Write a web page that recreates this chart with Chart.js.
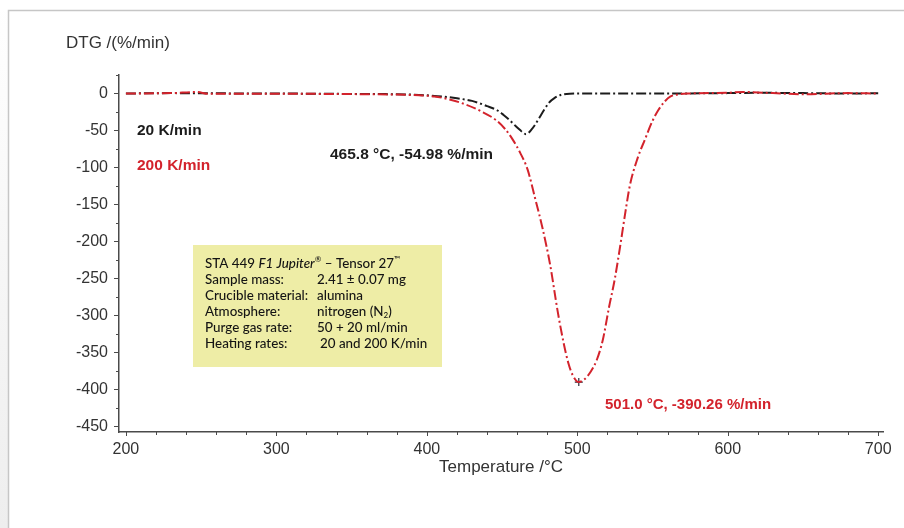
<!DOCTYPE html>
<html>
<head>
<meta charset="utf-8">
<script src="https://cdn.jsdelivr.net/npm/chart.js@4.4.1/dist/chart.umd.min.js"></script>
<style>
  html, body { margin: 0; padding: 0; background: #fff; }
  #wrap { width: 904px; height: 528px; position: relative; }
</style>
</head>
<body>
<div id="wrap"><canvas id="dtgChart" width="904" height="528"></canvas></div>
<script>
// DTG curves (temperature in °C, DTG in %/min)
const temps20 = [200, 230, 260, 300, 340, 370, 390, 400, 410, 420, 430, 440, 447, 451, 455, 459, 462, 464, 465.8, 467.5, 469.5, 472, 475, 478, 481, 485, 489, 495, 510, 550, 600, 620, 650, 680, 700];
const dtg20   = [0, 0.5, 0.2, 0, -0.5, -0.8, -1.5, -2.5, -4, -6.5, -10, -17, -23, -29, -36, -44, -49.5, -53, -54.98, -53.5, -49, -42, -32, -22, -13, -6, -2, -0.3, 0, 0, 0.5, 1, 0.5, 0, 0.3];

const temps200 = [200, 230, 247, 255, 280, 320, 360, 380, 395, 405, 415, 426, 436, 446, 452, 457, 462, 467, 472, 477, 482, 487, 491, 494, 497, 501, 505, 509, 513, 517, 521, 525, 529, 532, 535, 540, 545, 550, 554, 558, 562, 568, 575, 600, 610, 630, 650, 680, 700];
const dtg200   = [0, 0.5, 2, -0.5, -0.5, -0.5, -1, -1.5, -2.5, -4, -8, -15, -24, -36, -48, -62, -80, -103, -142, -183, -232, -295, -338, -364, -381, -390.26, -386, -376, -360, -333, -290, -250, -200, -160, -124, -88, -62, -37, -22, -11, -4, -1, 0, 1, 2, 0.5, -1, 0.5, 0];

const peak20  = [465.8, -54.98];
const peak200 = [501.0, -390.26];

const xTickValues = [200, 300, 400, 500, 600, 700];
const yTickValues = [0, -50, -100, -150, -200, -250, -300, -350, -400, -450];

const seriesNames = ['20 K/min', '200 K/min'];
const infoLabels = ['Sample mass:', 'Crucible material:', 'Atmosphere:', 'Purge gas rate:', 'Heating rates:'];
const infoValues = ['2.41 \u00b1 0.07 mg', 'alumina', 'nitrogen (N', '50 + 20 ml/min', '20 and 200 K/min'];

const BLACK = '#1c1c1c';
const RED = '#d3232c';
const AXIS = '#4a4a4a';
const TEXT = '#333';
const SANS = '"Liberation Sans", Arial, sans-serif';
const BOX_FONT = 'Lato, "Open Sans", sans-serif';

function pts(xs, ys) {
    return xs.map((x, i) => ({ x: x, y: ys[i] }));
}

const decor = {
    id: 'decor',
    beforeDraw(chart) {
        const c = chart.ctx;
        c.save();
        // page frame
        const g = c.createLinearGradient(0, 0, 0, 528);
        g.addColorStop(0, '#ffffff');
        g.addColorStop(1, '#eeeeee');
        c.fillStyle = g;
        c.fillRect(0, 11, 8, 517);
        c.strokeStyle = '#c6c6c6';
        c.lineWidth = 1.5;
        c.beginPath();
        c.moveTo(8.5, 528);
        c.lineTo(8.5, 10.5);
        c.lineTo(904, 10.5);
        c.stroke();

        // info box
        c.fillStyle = '#eeeda6';
        c.fillRect(193, 245, 249, 122);
        c.fillStyle = '#141414';
        c.textBaseline = 'middle';
        c.textAlign = 'left';
        const F = '500 13.4px ' + BOX_FONT, FI = 'italic 500 13.4px ' + BOX_FONT, FS = '500 8px ' + BOX_FONT;
        let x = 205, y = 263.5;
        const seg = (t, font, dy) => {
            c.font = font;
            c.fillText(t, x, y + (dy || 0));
            x += c.measureText(t).width;
        };
        seg('STA 449 ', F);
        seg('F1 Jupiter', FI);
        seg('\u00ae', FS, -4);
        seg(' \u2013 Tensor 27', F);
        seg('\u2122', FS, -4);
        for (let i = 0; i < infoLabels.length; i++) {
            y = 263.5 + 16 * (i + 1);
            c.font = F;
            c.fillText(infoLabels[i], 205, y);
            x = i === 4 ? 320 : 317;
            seg(infoValues[i], F);
            if (i === 2) {
                seg('2', FS, 4);
                seg(')', F);
            }
        }
        c.restore();
    },
    afterDraw(chart) {
        const c = chart.ctx;
        const xs = chart.scales.x, ys = chart.scales.y;
        const area = chart.chartArea;
        c.save();
        // minor + major tick marks
        c.strokeStyle = AXIS;
        c.lineWidth = 1;
        c.beginPath();
        for (let v = 200; v <= 700; v += 20) {
            const px = Math.round(xs.getPixelForValue(v)) + 0.5;
            c.moveTo(px, area.bottom);
            c.lineTo(px, area.bottom + (v % 100 === 0 ? 4 : 3));
        }
        for (let v = 25; v >= -450; v -= 25) {
            const py = Math.round(ys.getPixelForValue(v)) + 0.5;
            c.moveTo(area.left, py);
            c.lineTo(area.left - (v % 50 === 0 ? 5 : 3), py);
        }
        c.stroke();

        // axis titles
        c.fillStyle = TEXT;
        c.font = '17px ' + SANS;
        c.textBaseline = 'middle';
        c.textAlign = 'left';
        c.fillText('DTG /(%/min)', 66, 43);
        c.textAlign = 'center';
        c.fillText('Temperature /\u00b0C', 501, 467);

        // series labels
        c.textAlign = 'left';
        c.font = 'bold 15.5px ' + SANS;
        c.fillStyle = BLACK;
        c.fillText(seriesNames[0], 137, 131);
        c.fillStyle = RED;
        c.fillText(seriesNames[1], 137, 166);

        // peak labels
        c.fillStyle = BLACK;
        c.font = 'bold 15.5px ' + SANS;
        c.fillText(peak20[0].toFixed(1) + ' \u00b0C, ' + peak20[1].toFixed(2) + ' %/min', 330, 155);
        c.fillStyle = RED;
        c.font = 'bold 15px ' + SANS;
        c.fillText(peak200[0].toFixed(1) + ' \u00b0C, ' + peak200[1].toFixed(2) + ' %/min', 605, 405);
        c.restore();
    }
};

const ctx = document.getElementById('dtgChart').getContext('2d');
new Chart(ctx, {
    type: 'scatter',
    data: {
        datasets: [{
            label: seriesNames[1],
            data: pts(temps200, dtg200),
            showLine: true,
            borderColor: RED,
            borderWidth: 2,
            borderDash: [10, 3, 2, 3],
            pointRadius: 0,
            tension: 0.4,
            cubicInterpolationMode: 'monotone'
        }, {
            label: seriesNames[0],
            data: pts(temps20, dtg20),
            showLine: true,
            borderColor: BLACK,
            borderWidth: 2,
            borderDash: [10, 3, 2, 3],
            pointRadius: 0,
            tension: 0.4,
            cubicInterpolationMode: 'monotone'
        }, {
            label: 'peak',
            data: [{ x: peak200[0], y: peak200[1] }],
            pointStyle: 'cross',
            pointRadius: 4,
            borderColor: '#2b2b3a',
            borderWidth: 1.2
        }]
    },
    options: {
        responsive: false,
        animation: false,
        layout: { padding: { left: 0, top: 75, right: 21, bottom: 0 } },
        plugins: { legend: { display: false }, tooltip: { enabled: false } },
        scales: {
            x: {
                type: 'linear',
                min: 195.4,
                max: 703.2,
                afterBuildTicks: s => { s.ticks = xTickValues.map(v => ({ value: v })); },
                afterFit: s => { s.height = 96; },
                grid: { display: false, drawTicks: false },
                border: { display: true, color: AXIS, width: 1.5 },
                ticks: { color: TEXT, font: { family: SANS, size: 16 }, padding: 8, maxRotation: 0 }
            },
            y: {
                type: 'linear',
                min: -457.7,
                max: 25,
                afterBuildTicks: s => { s.ticks = yTickValues.map(v => ({ value: v })); },
                afterFit: s => { s.width = 119; },
                grid: { display: false, drawTicks: false },
                border: { display: true, color: AXIS, width: 1.5 },
                ticks: { color: TEXT, font: { family: SANS, size: 16 }, padding: 11 }
            }
        }
    },
    plugins: [decor]
});
</script>
</body>
</html>
